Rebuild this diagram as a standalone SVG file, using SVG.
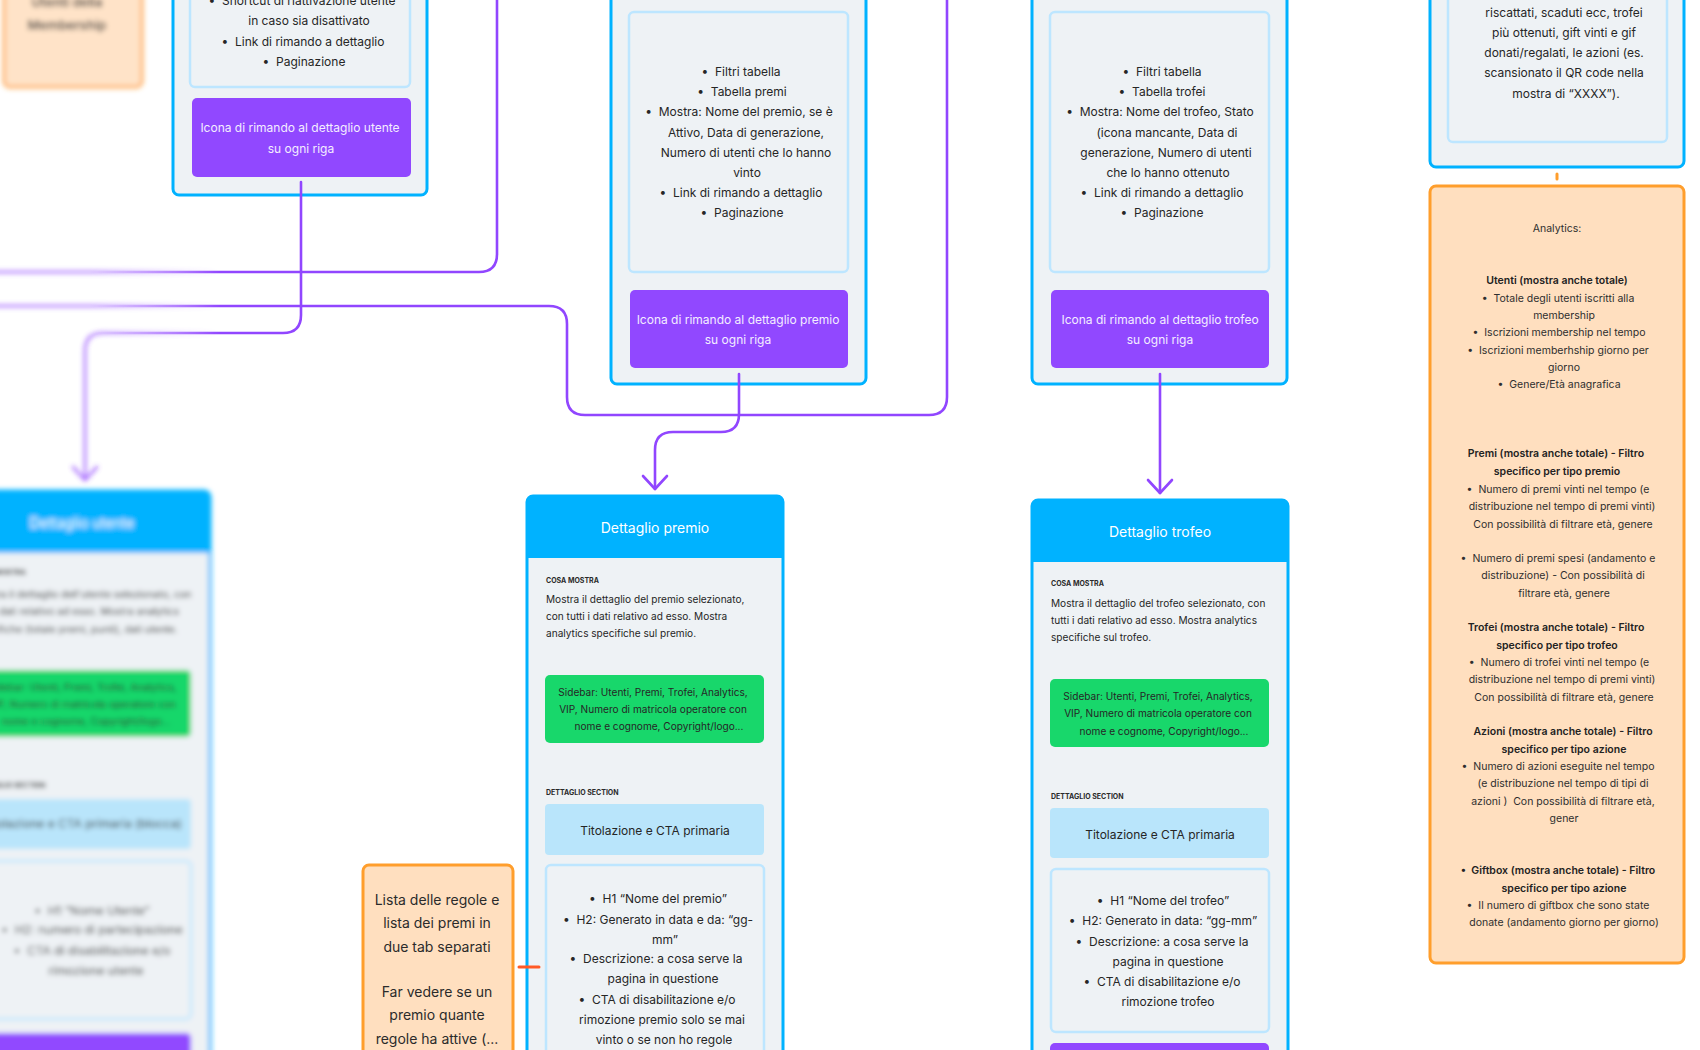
<svg xmlns="http://www.w3.org/2000/svg" xmlns:xlink="http://www.w3.org/1999/xlink" width="1700" height="1050" viewBox="0 0 1700 1050">
<style>
text{font-family:Inter,"Noto Sans","Liberation Sans",sans-serif;white-space:pre}
.mid{text-anchor:middle}
.t12{font-size:12px;fill:#262626}
.t10{font-size:10.1px;fill:#262626}
.an{font-size:10.5px;fill:#2e2e2e;text-anchor:middle}
.anb{font-weight:600;fill:#222}
.lbl{font-size:7px;font-weight:700;fill:#2a2a2a}
.hdr{font-size:14px;fill:#fff;text-anchor:middle}
.pt{font-size:12px;fill:#F4EDFF;text-anchor:middle}
.or{font-size:14px;fill:#2b2b2b;text-anchor:middle}
.panel{fill:#EEF2F5;stroke:#00B2FF;stroke-width:3}
.inner{fill:#EEF2F5;stroke:#BDE6FF;stroke-width:2.5}
.purple{fill:#9148FF}
.green{fill:#18D76B}
.tit{fill:#B9E5FB}
.head{fill:#00B2FF}
.note{fill:#FFDFBF;stroke:#FF9E2C;stroke-width:3}
.conn{fill:none;stroke:#9146FF;stroke-width:2.6;stroke-linecap:round;stroke-linejoin:round}
</style>
<defs>
<marker id="arrow" viewBox="-16 -16 32 32" markerWidth="32" markerHeight="32" refX="0" refY="0" orient="auto" markerUnits="userSpaceOnUse">
<path d="M-13,-12 L0,0 L-13,12" fill="none" stroke="#9146FF" stroke-width="2.6" stroke-linecap="round" stroke-linejoin="round"/>
</marker>
<filter id="fBlur" filterUnits="userSpaceOnUse" x="-100" y="-100" width="1900" height="1250">
<feGaussianBlur stdDeviation="2.6"/>
</filter>
<filter id="fBlurN" x="-10%" y="-10%" width="120%" height="120%">
<feGaussianBlur stdDeviation="2.6"/>
</filter>
<linearGradient id="gSharp" gradientUnits="userSpaceOnUse" x1="90" y1="0" x2="220" y2="0">
<stop offset="0" stop-color="#000"/><stop offset="1" stop-color="#fff"/>
</linearGradient>
<linearGradient id="gBlur" gradientUnits="userSpaceOnUse" x1="90" y1="0" x2="220" y2="0">
<stop offset="0" stop-color="#fff"/><stop offset="1" stop-color="#000"/>
</linearGradient>
<mask id="mSharp" maskUnits="userSpaceOnUse" x="-100" y="-100" width="1900" height="1250">
<rect x="-100" y="-100" width="1900" height="1250" fill="url(#gSharp)"/>
</mask>
<mask id="mBlur" maskUnits="userSpaceOnUse" x="-100" y="-100" width="1900" height="1250">
<rect x="-100" y="-100" width="1900" height="1250" fill="url(#gBlur)"/>
</mask>
</defs>
<rect x="0" y="0" width="1700" height="1050" fill="#fff"/>

<!-- top-left blurred note -->
<g id="node-membership" filter="url(#fBlurN)">
<rect x="4" y="-20" width="138" height="107" rx="6" class="note" opacity="0.85"/>
<text x="67" y="7" class="or" style="font-size:13px;font-weight:600;fill:#444">Utenti della</text>
<text x="67" y="30" class="or" style="font-size:13px;font-weight:600;fill:#444">Membership</text>
</g>

<!-- Utenti list -->
<g id="node-lista-utenti">
<rect x="173" y="-20" width="254" height="215" rx="6" class="panel"/>
<rect x="190" y="-20" width="220" height="107" rx="5" class="inner"/>
<text x="302" y="5" class="t12 mid">•  Shortcut di riattivazione utente</text>
<text x="309" y="25" class="t12 mid">in caso sia disattivato</text>
<text x="303" y="46" class="t12 mid">•  Link di rimando a dettaglio</text>
<text x="304" y="66" class="t12 mid">•  Paginazione</text>
<rect x="192" y="98" width="219" height="79" rx="5" class="purple"/>
<text x="300" y="132" class="pt">Icona di rimando al dettaglio utente</text>
<text x="301" y="153" class="pt">su ogni riga</text>
</g>

<!-- Premi list -->
<g id="node-lista-premi">
<rect x="611" y="-20" width="255" height="404" rx="6" class="panel"/>
<rect x="629" y="12" width="219" height="260" rx="5" class="inner"/>
<text x="741" y="76" class="t12 mid">•  Filtri tabella</text>
<text x="742" y="96" class="t12 mid">•  Tabella premi</text>
<text x="739" y="116" class="t12 mid">•  Mostra: Nome del premio, se è</text>
<text x="746" y="137" class="t12 mid">Attivo, Data di generazione,</text>
<text x="746" y="157" class="t12 mid">Numero di utenti che lo hanno</text>
<text x="747" y="177" class="t12 mid">vinto</text>
<text x="741" y="197" class="t12 mid">•  Link di rimando a dettaglio</text>
<text x="742" y="217" class="t12 mid">•  Paginazione</text>
<rect x="630" y="290" width="218" height="78" rx="5" class="purple"/>
<text x="738" y="324" class="pt">Icona di rimando al dettaglio premio</text>
<text x="738" y="344" class="pt">su ogni riga</text>
</g>

<!-- Trofei list -->
<g id="node-lista-trofei">
<rect x="1032" y="-20" width="255" height="404" rx="6" class="panel"/>
<rect x="1050" y="12" width="219" height="260" rx="5" class="inner"/>
<text x="1162" y="76" class="t12 mid">•  Filtri tabella</text>
<text x="1162" y="96" class="t12 mid">•  Tabella trofei</text>
<text x="1160" y="116" class="t12 mid">•  Mostra: Nome del trofeo, Stato</text>
<text x="1167" y="137" class="t12 mid">(icona mancante, Data di</text>
<text x="1166" y="157" class="t12 mid">generazione, Numero di utenti</text>
<text x="1168" y="177" class="t12 mid">che lo hanno ottenuto</text>
<text x="1162" y="197" class="t12 mid">•  Link di rimando a dettaglio</text>
<text x="1162" y="217" class="t12 mid">•  Paginazione</text>
<rect x="1051" y="290" width="218" height="78" rx="5" class="purple"/>
<text x="1160" y="324" class="pt">Icona di rimando al dettaglio trofeo</text>
<text x="1160" y="344" class="pt">su ogni riga</text>
</g>

<!-- Analytics container (top right) -->
<g id="node-analytics-lista">
<rect x="1430" y="-20" width="254" height="187" rx="6" class="panel"/>
<rect x="1448" y="-20" width="219" height="162" rx="5" class="inner"/>
<text x="1564" y="17" class="t12 mid">riscattati, scaduti ecc, trofei</text>
<text x="1564" y="37" class="t12 mid">più ottenuti, gift vinti e gif</text>
<text x="1564" y="57" class="t12 mid">donati/regalati, le azioni (es.</text>
<text x="1564" y="77" class="t12 mid">scansionato il QR code nella</text>
<text x="1566" y="98" class="t12 mid">mostra di “XXXX”).</text>
</g>

<!-- Analytics note -->
<g id="node-analytics">
<rect x="1430" y="186" width="254" height="777" rx="6" class="note"/>
<text x="1557" y="232" class="an">Analytics:</text>
<text x="1557" y="284" class="an anb">Utenti (mostra anche totale)</text>
<text x="1558" y="302" class="an">•  Totale degli utenti iscritti alla</text>
<text x="1564" y="319" class="an">membership</text>
<text x="1559" y="336" class="an">•  Iscrizioni membership nel tempo</text>
<text x="1558" y="354" class="an">•  Iscrizioni memberhship giorno per</text>
<text x="1564" y="371" class="an">giorno</text>
<text x="1559" y="388" class="an">•  Genere/Età anagrafica</text>
<text x="1556" y="457" class="an anb">Premi (mostra anche totale) - Filtro</text>
<text x="1557" y="475" class="an anb">specifico per tipo premio</text>
<text x="1558" y="493" class="an">•  Numero di premi vinti nel tempo (e</text>
<text x="1562" y="510" class="an">distribuzione nel tempo di premi vinti)</text>
<text x="1563" y="528" class="an">Con possibilità di filtrare età, genere</text>
<text x="1558" y="562" class="an">•  Numero di premi spesi (andamento e</text>
<text x="1563" y="579" class="an">distribuzione) - Con possibilità di</text>
<text x="1564" y="597" class="an">filtrare età, genere</text>
<text x="1556" y="631" class="an anb">Trofei (mostra anche totale) - Filtro</text>
<text x="1557" y="649" class="an anb">specifico per tipo trofeo</text>
<text x="1559" y="666" class="an">•  Numero di trofei vinti nel tempo (e</text>
<text x="1562" y="683" class="an">distribuzione nel tempo di premi vinti)</text>
<text x="1564" y="701" class="an">Con possibilità di filtrare età, genere</text>
<text x="1563" y="735" class="an anb">Azioni (mostra anche totale) - Filtro</text>
<text x="1564" y="753" class="an anb">specifico per tipo azione</text>
<text x="1558" y="770" class="an">•  Numero di azioni eseguite nel tempo</text>
<text x="1563" y="787" class="an">(e distribuzione nel tempo di tipi di</text>
<text x="1563" y="805" class="an">azioni )  Con possibilità di filtrare età,</text>
<text x="1564" y="822" class="an">gener</text>
<text x="1558" y="874" class="an anb">•  Giftbox (mostra anche totale) - Filtro</text>
<text x="1564" y="892" class="an anb">specifico per tipo azione</text>
<text x="1558" y="909" class="an">•  Il numero di giftbox che sono state</text>
<text x="1564" y="926" class="an">donate (andamento giorno per giorno)</text>
</g>

<!-- Dettaglio utente (blurred) -->
<g id="node-dettaglio-utente" filter="url(#fBlurN)">
<rect x="-46" y="491" width="256" height="620" rx="6" class="panel"/>
<path d="M-46,553 V497 Q-46,491 -40,491 H204 Q210,491 210,497 V553 Z" class="head"/>
<text x="82" y="528" class="hdr">Dettaglio utente</text>
<text x="-27" y="575" class="lbl">COSA MOSTRA</text>
<text x="-27" y="598" class="t10">Mostra il dettaglio dell'utente selezionato, con</text>
<text x="-27" y="615" class="t10">tutti i dati relativo ad esso. Mostra analytics</text>
<text x="-27" y="633" class="t10">specifiche (totale premi, punti), dati utente.</text>
<rect x="-28" y="670" width="219" height="67" rx="5" class="green"/>
<text x="82" y="691" class="t10 mid">Sidebar: Utenti, Premi, Trofei, Analytics,</text>
<text x="82" y="708" class="t10 mid">VIP, Numero di matricola operatore con</text>
<text x="86" y="725" class="t10 mid">nome e cognome, Copyright/logo...</text>
<text x="-27" y="788" class="lbl">DETTAGLIO SECTION</text>
<rect x="-28" y="799" width="219" height="50" rx="4" class="tit"/>
<text x="82" y="828" class="t12 mid">Titolazione e CTA primaria (blocca)</text>
<rect x="-27" y="861" width="218" height="158" rx="5" class="inner"/>
<text x="92" y="915" class="t12 mid">•  H1 “Nome Utente”</text>
<text x="92" y="934" class="t12 mid">•  H2: numero di partecipazione</text>
<text x="92" y="955" class="t12 mid">•  CTA di disabilitazione e/o</text>
<text x="96" y="975" class="t12 mid">rimozione utente</text>
<rect x="-28" y="1033" width="219" height="40" rx="5" class="purple"/>
</g>

<!-- Dettaglio premio -->
<g id="node-dettaglio-premio">
<rect x="527" y="496" width="256" height="620" rx="6" class="panel"/>
<path d="M527,558 V502 Q527,496 533,496 H777 Q783,496 783,502 V558 Z" class="head"/>
<text x="655" y="533" class="hdr">Dettaglio premio</text>
<text x="546" y="583" class="lbl">COSA MOSTRA</text>
<text x="546" y="603" class="t10">Mostra il dettaglio del premio selezionato,</text>
<text x="546" y="620" class="t10">con tutti i dati relativo ad esso. Mostra</text>
<text x="546" y="637" class="t10">analytics specifiche sul premio.</text>
<rect x="545" y="675" width="219" height="68" rx="5" class="green"/>
<text x="653" y="696" class="t10 mid">Sidebar: Utenti, Premi, Trofei, Analytics,</text>
<text x="653" y="713" class="t10 mid">VIP, Numero di matricola operatore con</text>
<text x="659" y="730" class="t10 mid">nome e cognome, Copyright/logo...</text>
<text x="546" y="795" class="lbl">DETTAGLIO SECTION</text>
<rect x="545" y="804" width="219" height="51" rx="4" class="tit"/>
<text x="655" y="835" class="t12 mid">Titolazione e CTA primaria</text>
<rect x="546" y="865" width="218" height="220" rx="5" class="inner"/>
<text x="658" y="903" class="t12 mid">•  H1 “Nome del premio”</text>
<text x="658" y="924" class="t12 mid">•  H2: Generato in data e da: “gg-</text>
<text x="665" y="944" class="t12 mid">mm”</text>
<text x="656" y="963" class="t12 mid">•  Descrizione: a cosa serve la</text>
<text x="663" y="983" class="t12 mid">pagina in questione</text>
<text x="657" y="1004" class="t12 mid">•  CTA di disabilitazione e/o</text>
<text x="662" y="1024" class="t12 mid">rimozione premio solo se mai</text>
<text x="664" y="1044" class="t12 mid">vinto o se non ho regole</text>
</g>

<!-- Dettaglio trofeo -->
<g id="node-dettaglio-trofeo">
<rect x="1032" y="500" width="256" height="620" rx="6" class="panel"/>
<path d="M1032,562 V506 Q1032,500 1038,500 H1282 Q1288,500 1288,506 V562 Z" class="head"/>
<text x="1160" y="537" class="hdr">Dettaglio trofeo</text>
<text x="1051" y="586" class="lbl">COSA MOSTRA</text>
<text x="1051" y="607" class="t10">Mostra il dettaglio del trofeo selezionato, con</text>
<text x="1051" y="624" class="t10">tutti i dati relativo ad esso. Mostra analytics</text>
<text x="1051" y="641" class="t10">specifiche sul trofeo.</text>
<rect x="1050" y="679" width="219" height="68" rx="5" class="green"/>
<text x="1158" y="700" class="t10 mid">Sidebar: Utenti, Premi, Trofei, Analytics,</text>
<text x="1158" y="717" class="t10 mid">VIP, Numero di matricola operatore con</text>
<text x="1164" y="735" class="t10 mid">nome e cognome, Copyright/logo...</text>
<text x="1051" y="799" class="lbl">DETTAGLIO SECTION</text>
<rect x="1050" y="808" width="219" height="50" rx="4" class="tit"/>
<text x="1160" y="839" class="t12 mid">Titolazione e CTA primaria</text>
<rect x="1051" y="869" width="218" height="163" rx="5" class="inner"/>
<text x="1163" y="905" class="t12 mid">•  H1 “Nome del trofeo”</text>
<text x="1163" y="925" class="t12 mid">•  H2: Generato in data: “gg-mm”</text>
<text x="1162" y="946" class="t12 mid">•  Descrizione: a cosa serve la</text>
<text x="1168" y="966" class="t12 mid">pagina in questione</text>
<text x="1162" y="986" class="t12 mid">•  CTA di disabilitazione e/o</text>
<text x="1168" y="1006" class="t12 mid">rimozione trofeo</text>
<rect x="1050" y="1043" width="219" height="40" rx="5" class="purple"/>
</g>

<!-- Lista regole note -->
<g id="node-note-regole">
<rect x="363" y="865" width="150" height="220" rx="6" class="note"/>
<text x="437" y="905" class="or">Lista delle regole e</text>
<text x="437" y="928" class="or">lista dei premi in</text>
<text x="437" y="952" class="or">due tab separati</text>
<text x="437" y="997" class="or">Far vedere se un</text>
<text x="437" y="1020" class="or">premio quante</text>
<text x="437" y="1044" class="or">regole ha attive (...</text>
</g>

<!-- Connectors -->
<g id="connectors">
<g mask="url(#mSharp)">
<g id="connLines">
<path class="conn" d="M497,-10 V254 Q497,272 479,272 H-20"/>
<path class="conn" d="M947,-10 V397 Q947,415 929,415 H585 Q567,415 567,397 V324 Q567,306 549,306 H-20"/>
<path class="conn" d="M301,182 V315 Q301,333 283,333 H103 Q85,333 85,351 V480" marker-end="url(#arrow)"/>
<path class="conn" d="M739,374 V414 Q739,432 721,432 H673 Q655,432 655,450 V489" marker-end="url(#arrow)"/>
<path class="conn" d="M1160,374 V493" marker-end="url(#arrow)"/>
</g>
</g>
<use xlink:href="#connLines" href="#connLines" filter="url(#fBlur)" mask="url(#mBlur)" opacity="0.8"/>
<path d="M519,967 H539" fill="none" stroke="#FF5A26" stroke-width="3" stroke-linecap="round"/>
<path d="M1557,174 V179" fill="none" stroke="#FF9E2C" stroke-width="3" stroke-linecap="round"/>
</g>
</svg>
